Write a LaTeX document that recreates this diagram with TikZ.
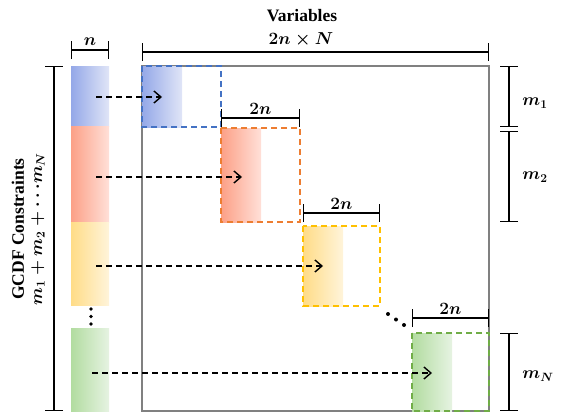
\documentclass[tikz,border=0pt]{standalone}
\usepackage{amsmath}
\usepackage{bm}
\usepackage{fontspec}
\setmainfont{Liberation Serif}
\usetikzlibrary{arrows.meta, calc}

\definecolor{blkblue}{RGB}{68,114,196}
\definecolor{blkred}{RGB}{237,125,49}
\definecolor{blkyel}{RGB}{255,192,0}
\definecolor{blkgrn}{RGB}{112,173,71}
\definecolor{shblue}{RGB}{148,168,232}
\definecolor{shblueL}{RGB}{224,229,247}
\definecolor{shred}{RGB}{252,160,135}
\definecolor{shredL}{RGB}{255,224,216}
\definecolor{shyel}{RGB}{255,220,135}
\definecolor{shyelL}{RGB}{255,244,218}
\definecolor{shgrn}{RGB}{178,220,160}
\definecolor{shgrnL}{RGB}{230,243,226}

\tikzset{
  lbl/.style={font=\fontsize{17.5}{21}\selectfont\bfseries\boldmath, inner sep=1pt},
  mlbl/.style={font=\fontsize{17.5}{21}\selectfont\bfseries\boldmath, inner sep=1pt},
  dim/.style={line width=1.3pt, {Bar[width=18pt]}-{Bar[width=18pt]}},
  blk/.style={line width=1.4pt, dash pattern=on 6pt off 4pt},
  arr/.style={line width=1.2pt, dash pattern=on 6pt off 4pt, -{Straight Barb[length=7pt,width=12pt,line width=1.4pt]}},
  colbar/.style={minimum width=38pt, inner sep=0pt, outer sep=0pt},
  slot/.style={inner sep=0pt, outer sep=0pt}
}

\begin{document}
\begin{tikzpicture}[x=1pt, y=-1pt]
\useasboundingbox (0,0) rectangle (571,415);

% left column of constraint rows
\node[colbar, minimum height=60pt, left color=shblue, right color=shblueL] (b1) at (90,96) {};
\node[colbar, minimum height=96pt, left color=shred,  right color=shredL]  (b2) at (90,174) {};
\node[colbar, minimum height=83pt, left color=shyel,  right color=shyelL]  (b3) at (90,263.5) {};
\node[colbar, minimum height=83pt, left color=shgrn,  right color=shgrnL]  (b4) at (90,369.5) {};
\foreach \yy in {309,316.5,324} \fill (91,\yy) circle (1.8);

% the matrix
\node[slot, draw=gray, line width=1.8pt, minimum width=347pt, minimum height=345pt] (mat) at (315.5,238.5) {};

% diagonal blocks
\node[slot, minimum width=79pt, minimum height=61pt] (k1) at (181.5,96.5) {};
\node[slot, minimum width=79pt, minimum height=94pt] (k2) at (260.5,175) {};
\node[slot, minimum width=77pt, minimum height=80pt] (k3) at (341.5,266) {};
\node[slot, minimum width=77pt, minimum height=78pt] (k4) at (450.5,372) {};

\shade[left color=shblue, right color=shblueL] (k1.north west) rectangle ($(k1.south west)+(40,0)$);
\shade[left color=shred,  right color=shredL]  (k2.north west) rectangle ($(k2.south west)+(40,0)$);
\shade[left color=shyel,  right color=shyelL]  (k3.north west) rectangle ($(k3.south west)+(40,0)$);
\shade[left color=shgrn,  right color=shgrnL]  (k4.north west) rectangle ($(k4.south west)+(40,0)$);

\draw[blk, blkblue] (k1.north west) rectangle (k1.south east);
\draw[blk, blkred]  (k2.north west) rectangle (k2.south east);
\draw[blk, blkyel]  (k3.north west) rectangle (k3.south east);
\draw[blk, blkgrn]  (k4.north west) rectangle (k4.south east);

\foreach \xx/\yy in {388/314,396/319.5,404/325} \fill (\xx,\yy) circle (2);

% arrows
\draw[arr] ($(k1.west -| b1.center)+(6,0.5)$) -- ($(k1.west)+(20,0.5)$);
\draw[arr] ($(k2.west -| b2.center)+(6,2)$) -- ($(k2.west)+(21,2)$);
\draw[arr] ($(k3.west -| b3.center)+(6,0)$) -- ($(k3.west)+(20,0)$);
\draw[arr] ($(k4.west -| b4.center)+(2,1)$) -- ($(k4.west)+(20,1)$);

% dimension bars
\draw[dim] ($(b1.north west)+(0,-16)$) -- node[mlbl, above=3pt] (nlbl) {$\bm{n}$} ($(b1.north east)+(0,-16)$);
\draw[dim] ($(b1.north west)+(-17,0)$) -- ($(b4.south west)+(-17,0)$);
\draw[dim] ($(mat.north west)+(0,-14)$) -- ($(mat.north east)+(0,-14)$);
\node[mlbl] (vsize) at (301,40) {$\bm{2n\times N}$};
\node[lbl] (vars) at (302,16) {Variables};

\draw[dim] ($(k2.north west)+(0,-10)$) -- node[mlbl, above=2pt] (w2) {$\bm{2n}$} ($(k2.north east)+(0,-10)$);
\draw[dim] ($(k3.north west)+(0,-13)$) -- node[mlbl, above=2pt] (w3) {$\bm{2n}$} ($(k3.north east)+(0,-13)$);
\draw[dim] ($(k4.north west)+(0,-15)$) -- node[mlbl, above=2pt] (w4) {$\bm{2n}$} ($(k4.north east)+(0,-15)$);

\draw[dim] ($(mat.east |- k1.north)+(20,0)$) -- ($(mat.east |- k1.south)+(20,0)$);
\draw[dim] ($(mat.east |- k2.north)+(20,3)$) -- ($(mat.east |- k2.south)+(20,0)$);
\draw[dim] ($(mat.east |- k4.north)+(20,0)$) -- ($(mat.east |- k4.south)+(20,0)$);
\node[mlbl] (h1) at (535,103) {$\bm{m_1}$};
\node[mlbl] (h2) at (535,177) {$\bm{m_2}$};
\node[mlbl] (hN) at (538,376) {$\bm{m_N}$};

\node[lbl, rotate=90] (gcdf) at (18,229) {GCDF Constraints};
\node[mlbl, rotate=90] (msum) at (38,229) {$\bm{m_1+m_2+\cdots m_N}$};

\end{tikzpicture}
\end{document}
